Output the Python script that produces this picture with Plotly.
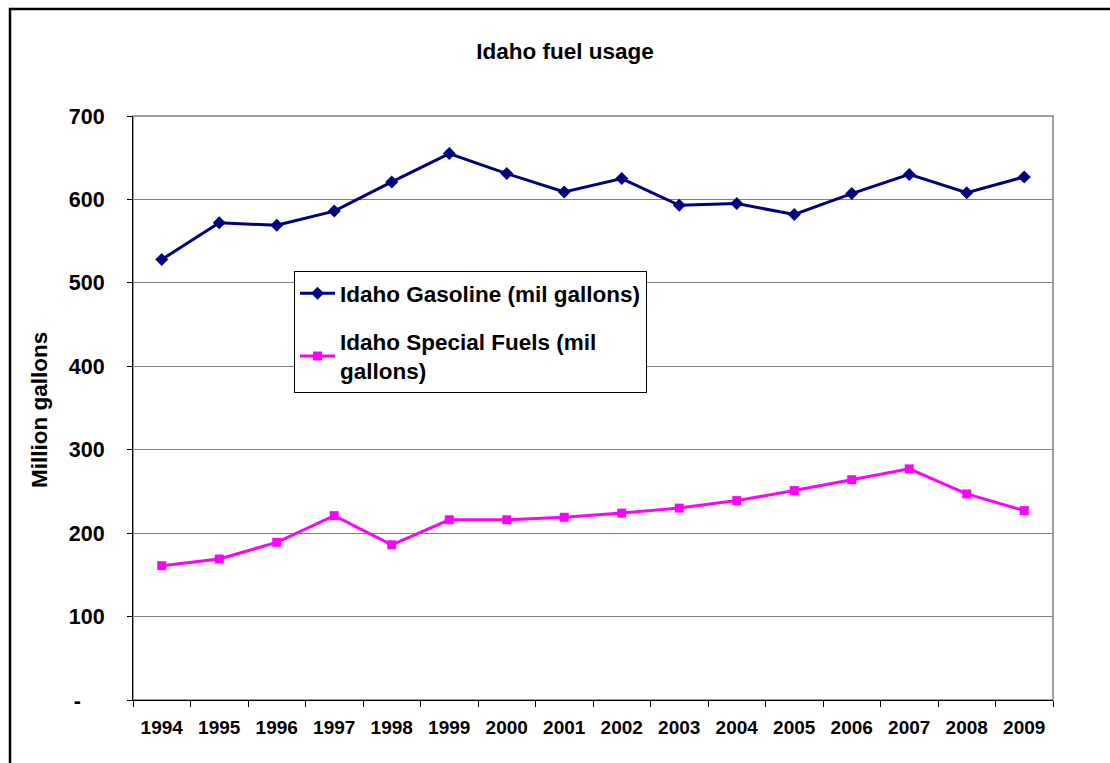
import plotly.graph_objects as go

years = [str(y) for y in range(1994, 2010)]
gasoline = [528, 572, 569, 586, 621, 655, 631, 609, 625, 593, 595, 582, 607, 630, 608, 627]
special = [161, 169, 189, 221, 186, 216, 216, 219, 224, 230, 239, 251, 264, 277, 247, 227]
y_ticks = [0, 100, 200, 300, 400, 500, 600, 700]
y_ticktext = ["-\u00a0\u00a0\u00a0\u00a0", "100", "200", "300", "400", "500", "600", "700"]

FONT = "Liberation Sans, Arial, sans-serif"
W, H = 1110, 763
L, R, T, B = 133, 1053, 116, 700

fig = go.Figure()
fig.add_trace(go.Scatter(
    x=years, y=gasoline, mode="lines+markers",
    name="Idaho Gasoline (mil gallons)", legendgroup="g1",
    line=dict(color="#000080", width=3),
    marker=dict(symbol="diamond", size=10, color="#000080"),
))
fig.add_trace(go.Scatter(
    x=years, y=special, mode="lines+markers",
    name="Idaho Special Fuels (mil<br>gallons)", legendgroup="g2",
    line=dict(color="#FF00FF", width=3),
    marker=dict(symbol="square", size=9, color="#FF00FF"),
))

def px_x(px):
    return (px - L) / (R - L)

def px_y(py):
    return (B - py) / (B - T)

fig.update_layout(
    width=W, height=H,
    margin=dict(l=L, r=W - R, t=T, b=H - B, pad=0),
    paper_bgcolor="white", plot_bgcolor="white",
    font=dict(family=FONT, color="black"),
    title=dict(text="<b>Idaho fuel usage</b>", x=565 / W, xref="container", xanchor="center",
               y=1 - 51 / H, yref="container", yanchor="middle",
               font=dict(size=22.5, family=FONT, color="black")),
    showlegend=True,
    legend=dict(
        x=px_x(294), y=px_y(271), xanchor="left", yanchor="top",
        bgcolor="white", bordercolor="black", borderwidth=1,
        font=dict(size=22.5, family=FONT, color="black", weight="bold"),
        traceorder="grouped", tracegroupgap=16,
        itemwidth=35,
    ),
    xaxis=dict(
        type="category", range=[-0.5, 15.5],
        showline=True, linecolor="black", linewidth=1,
        ticks="outside", ticklen=6, tickcolor="black", tickson="boundaries",
        tickfont=dict(size=19, family=FONT, color="black", weight="bold"),
        ticklabelstandoff=10,
        showgrid=False, zeroline=False,
    ),
    yaxis=dict(
        range=[0, 700], tickvals=y_ticks, ticktext=y_ticktext,
        showline=True, linecolor="black", linewidth=1,
        ticks="outside", ticklen=5, tickcolor="black",
        tickfont=dict(size=21.5, family=FONT, color="black", weight="bold"),
        ticklabelstandoff=18,
        showgrid=True, gridcolor="#808080", gridwidth=1,
        zeroline=False,
    ),
    shapes=[
        dict(type="rect", xref="paper", yref="paper", x0=0, x1=1, y0=0, y1=1,
             line=dict(color="#808080", width=1.5), fillcolor="rgba(0,0,0,0)", layer="below"),
        dict(type="rect", xref="paper", yref="paper",
             x0=px_x(10), x1=px_x(W + 20), y0=px_y(H + 20), y1=px_y(9),
             line=dict(color="black", width=2.5), fillcolor="rgba(0,0,0,0)", layer="below"),
    ],
    annotations=[
        dict(text="<b>Million gallons</b>", xref="paper", yref="paper",
             x=px_x(39), y=px_y(410), xanchor="center", yanchor="middle",
             textangle=-90, showarrow=False,
             font=dict(size=22.5, family=FONT, color="black")),
    ],
)

fig.write_html("out.html")
